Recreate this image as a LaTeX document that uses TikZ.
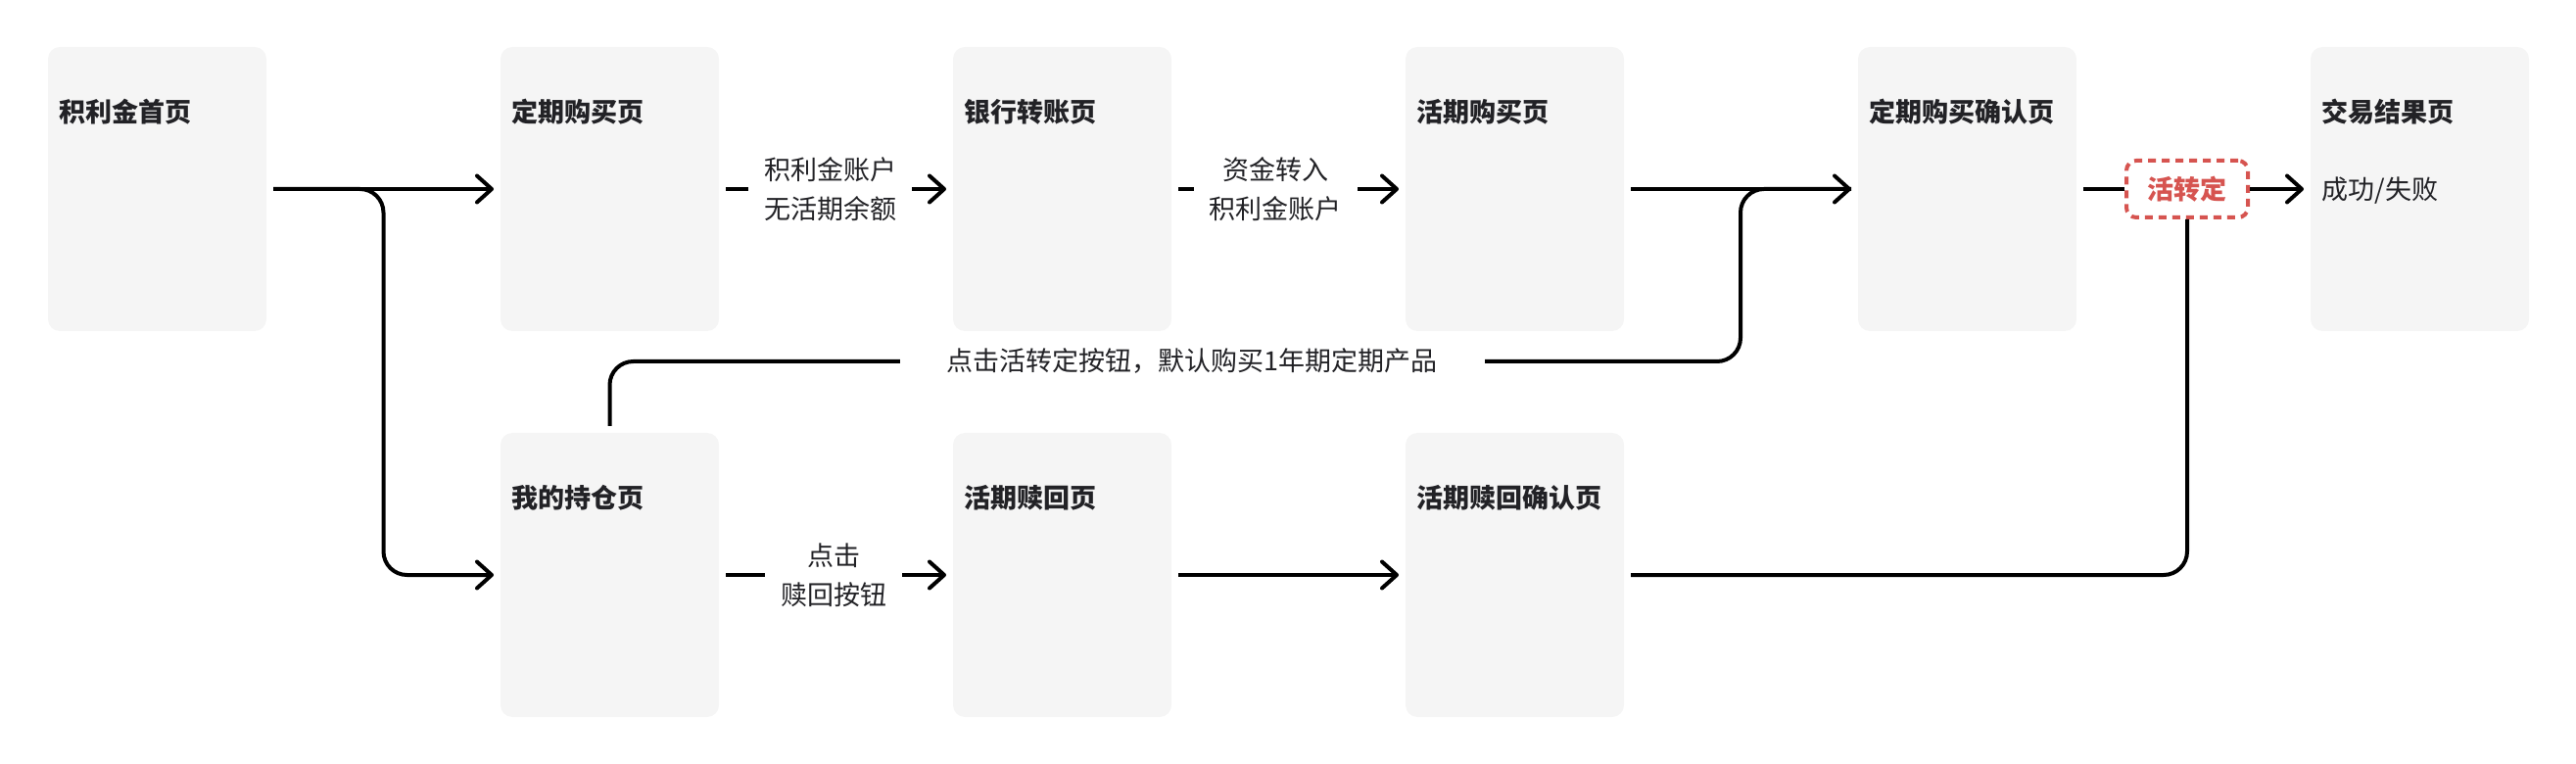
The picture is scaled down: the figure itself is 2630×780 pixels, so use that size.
\documentclass[tikz,border=0pt]{standalone}
\usepackage{fontspec}
\setmainfont{Noto Sans CJK SC}
\usetikzlibrary{calc}
\usetikzlibrary{arrows.meta}
\definecolor{pagebg}{RGB}{245,245,245}
\definecolor{ink}{RGB}{34,34,38}
\definecolor{alert}{RGB}{214,84,80}

\begin{document}
\begin{tikzpicture}[x=0.5pt,y=-0.5pt,
        page/.style={rectangle,fill=pagebg,rounded corners=6pt,minimum width=111.5pt,minimum height=145pt,outer sep=3.5pt},
        head/.style={anchor=west,inner sep=0pt,text=ink,font=\fontsize{13.5pt}{20pt}\selectfont\bfseries},
        note/.style={fill=white,inner xsep=8pt,align=center,text=ink,font=\fontsize{13.5pt}{20pt}\selectfont},
        swapbox/.style={draw=alert,fill=white,line width=2pt,dash pattern=on 4pt off 3pt,rounded corners=5pt,
            minimum width=62pt,minimum height=29pt,inner sep=0pt,text=alert,font=\fontsize{13.5pt}{20pt}\selectfont\bfseries},
        flow/.style={line width=2pt,-{Straight Barb[length=7.5pt,width=13.5pt,round]}},
        link/.style={line width=2pt}]
        \useasboundingbox (0,0) rectangle (2630,780);
        \node[page] (home) at (160.5,193) {};
        \node[page] (fixbuy) at (622.5,193) {};
        \node[page] (bank) at (1084.5,193) {};
        \node[page] (curbuy) at (1546.5,193) {};
        \node[page] (fixconf) at (2008.5,193) {};
        \node[page] (result) at (2470.5,193) {};
        \node[page] (hold) at (622.5,587) {};
        \node[page] (redeem) at (1084.5,587) {};
        \node[page] (redconf) at (1546.5,587) {};
        \node[head] (homet) at (60,114) {积利金首页};
        \node[head] (fixbuyt) at (522,114) {定期购买页};
        \node[head] (bankt) at (984,114) {银行转账页};
        \node[head] (curbuyt) at (1446,114) {活期购买页};
        \node[head] (fixconft) at (1908,114) {定期购买确认页};
        \node[head] (resultt) at (2370,114) {交易结果页};
        \node[head] (holdt) at (522,508) {我的持仓页};
        \node[head] (redeemt) at (984,508) {活期赎回页};
        \node[head] (redconft) at (1446,508) {活期赎回确认页};
        \node[head,font=\fontsize{13.5pt}{20pt}\selectfont] (resmsg) at (2370,195) {成功/失败};
        \node[swapbox] (swap) at (2233,193) {活转定};
        \draw[flow] (home.east) -- (fixbuy.west);
        \draw[flow,rounded corners=12pt] (home.east) -- ($(home.east)!.5!(fixbuy.west)$) |- (hold.west);
        \draw[flow] (fixbuy.east) -- (bank.west) node[note,pos=.475] (n1) {积利金账户\\无活期余额};
        \draw[flow] (bank.east) -- (curbuy.west) node[note,pos=.44] (n2) {资金转入\\积利金账户};
        \draw[flow] (curbuy.east) -- (fixconf.west);
        \coordinate (merge) at (1777,369);
        \draw[link,rounded corners=12pt] (hold.north) |- (merge) |- (fixconf.west);
        \node[note,inner xsep=24pt] (n3) at (1217,369) {点击活转定按钮，默认购买1年期定期产品};
        \draw[flow] (hold.east) -- (redeem.west) node[note,pos=.49] (n4) {点击\\赎回按钮};
        \draw[flow] (redeem.east) -- (redconf.west);
        \draw[link,rounded corners=12pt] (redconf.east) -| (swap.south);
        \draw[link] (fixconf.east) -- (swap.west);
        \draw[flow] (swap.east) -- (result.west);
    \end{tikzpicture}
\end{document}
